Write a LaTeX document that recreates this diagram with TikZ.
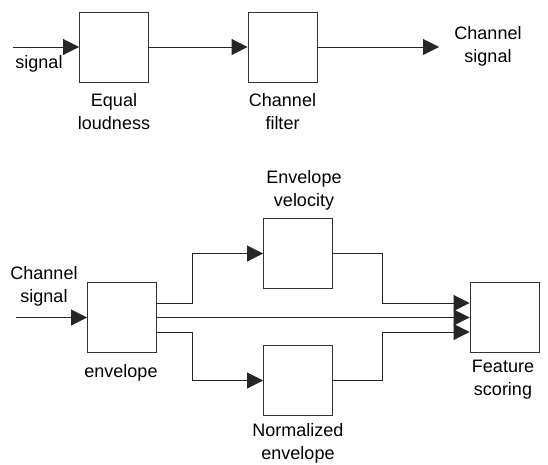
\documentclass[tikz,border=0pt]{standalone}
\usepackage{fontspec}
\setmainfont{Liberation Sans}
\usetikzlibrary{arrows.meta}
\begin{document}
\begin{tikzpicture}[x=1pt,y=-1pt,
  blockbox/.style={draw=black!80, line width=0.9pt, minimum width=69pt,
    minimum height=70pt, inner sep=0pt},
  lbl/.style={font=\fontsize{18}{23}\selectfont, align=center, inner sep=0pt},
  wire/.style={line width=0.9pt, draw=black!85},
  arr/.style={wire, -{Triangle[length=16pt,width=16pt]}}
]
\useasboundingbox (0,0) rectangle (548,464);

% upper chain: loudness weighting and channel filter
\node[blockbox] (eq) at (114,47) {};
\node[blockbox] (cf) at (282.5,47) {};
\coordinate (sigin) at (13,47);
\coordinate (sigout) at (439,47);
\draw[arr] (sigin) -- (eq.west);
\draw[arr] (eq.east) -- (cf.west);
\draw[arr] (cf.east) -- (sigout);

\node[lbl] (tsig) at (39,64) {signal};
\node[lbl] (tout) at (488,46) {Channel\\signal};
\node[lbl] (teq) at (114,112) {Equal\\loudness};
\node[lbl] (tcf) at (282.5,112) {Channel\\filter};

% lower chain: envelope, its derivatives and feature scoring
\node[blockbox] (env) at (122,317.5) {};
\node[blockbox] (vel) at (298,253.5) {};
\node[blockbox] (nrm) at (298,380.5) {};
\node[blockbox] (feat) at (504.5,317.5) {};
\coordinate (chin) at (16,317.5);

\draw[arr] (chin) -- (env.west);
\draw[arr] ([yshift=14.5pt]env.east) -| (192,253.5) -- (vel.west);
\draw[arr] ([yshift=-14.5pt]env.east) -| (192,380.5) -- (nrm.west);
\draw[arr] (env.east) -- (feat.west);
\draw[arr] (vel.east) -| (382,303) -- ([yshift=14.5pt]feat.west);
\draw[arr] (nrm.east) -| (382,332) -- ([yshift=-14.5pt]feat.west);

\node[lbl] (tch) at (44,286) {Channel\\signal};
\node[lbl] (tenv) at (121,373) {envelope};
\node[lbl] (tvel) at (304,190) {Envelope\\velocity};
\node[lbl] (tnrm) at (298,443) {Normalized\\envelope};
\node[lbl] (tfeat) at (503,380) {Feature\\scoring};
\end{tikzpicture}
\end{document}
